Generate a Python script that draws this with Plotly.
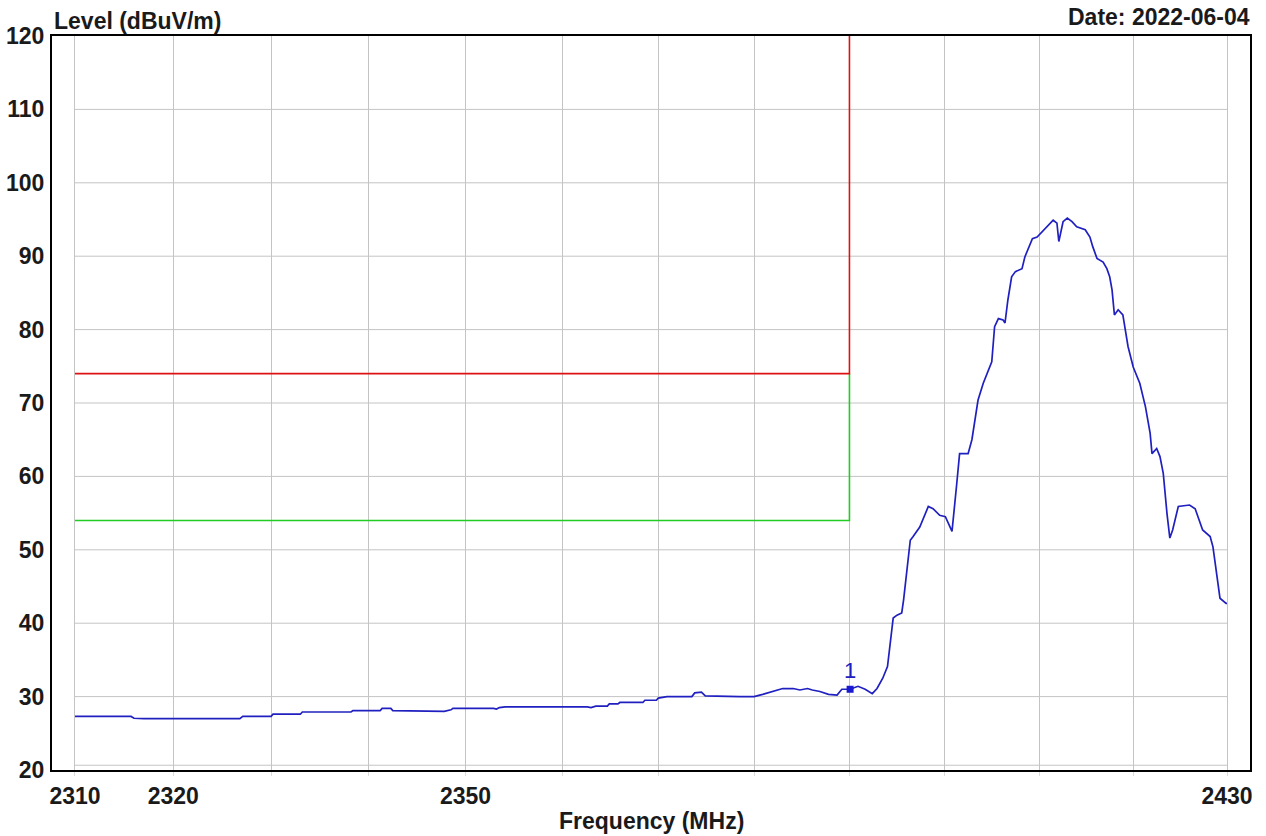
import math
import plotly.graph_objects as go

# Measured field-strength sweep (MHz, dBuV/m)
freq_mhz = [
    2310.0, 2315.7, 2316.0, 2317.0, 2320.2, 2326.8, 2327.1, 2330.0, 2330.2, 2333.0,
    2333.2, 2338.2, 2338.4, 2341.2, 2341.4, 2342.3, 2342.5, 2347.4, 2347.8, 2348.5,
    2348.7, 2352.9, 2353.2, 2353.5, 2354.1, 2362.6, 2363.0, 2363.5, 2364.7, 2364.9,
    2365.8, 2366.0, 2368.4, 2368.6, 2369.8, 2370.0, 2370.9, 2373.5, 2373.8, 2374.5,
    2374.9, 2378.5, 2380.0, 2380.9, 2382.0, 2383.0, 2384.1, 2384.8, 2385.6, 2386.1,
    2386.9, 2387.8, 2388.7, 2389.2, 2390.07, 2390.9, 2391.65, 2392.4, 2392.9, 2393.5,
    2394.0, 2394.3, 2394.6, 2395.0, 2395.5, 2395.7, 2396.1, 2396.4, 2396.7, 2397.4,
    2398.3, 2398.8, 2399.5, 2400.1, 2400.8, 2401.1, 2401.3, 2401.6, 2402.5, 2402.9,
    2403.2, 2403.55, 2404.1, 2404.6, 2405.0, 2405.3, 2405.7, 2406.2, 2406.4, 2406.7,
    2407.1, 2407.5, 2408.2, 2408.5, 2409.3, 2409.8, 2410.85, 2411.5, 2411.9, 2412.1,
    2412.55, 2413.0, 2413.5, 2414.0, 2414.9, 2415.4, 2415.7, 2416.15, 2416.8, 2417.2,
    2417.5, 2417.75, 2418.0, 2418.4, 2418.9, 2419.45, 2420.0, 2420.7, 2421.3, 2421.8,
    2422.0, 2422.5, 2422.85, 2423.2, 2423.6, 2423.9, 2424.2, 2424.8, 2426.0, 2426.6,
    2427.4, 2428.2, 2428.5, 2428.9, 2429.25, 2429.9, 2430.0,
]
level_dbuv = [
    27.3, 27.3, 27.05, 27.0, 27.0, 27.0, 27.3, 27.3, 27.6, 27.6,
    27.9, 27.9, 28.1, 28.1, 28.4, 28.4, 28.1, 28.1, 28.0, 28.2,
    28.4, 28.4, 28.3, 28.5, 28.6, 28.6, 28.5, 28.7, 28.7, 29.0,
    29.0, 29.2, 29.2, 29.5, 29.5, 29.8, 30.0, 30.0, 30.5, 30.6,
    30.1, 30.0, 30.0, 30.3, 30.7, 31.1, 31.1, 30.9, 31.1, 30.9,
    30.7, 30.3, 30.2, 31.0, 31.0, 31.4, 31.0, 30.4, 31.1, 32.5,
    34.1, 37.7, 40.7, 41.1, 41.4, 43.2, 48.2, 51.3, 51.8, 53.1,
    55.9, 55.6, 54.7, 54.5, 52.5, 55.9, 59.0, 63.1, 63.1, 65.0,
    67.7, 70.4, 72.7, 74.3, 75.6, 80.4, 81.5, 81.3, 80.9, 84.0,
    87.2, 87.9, 88.3, 89.9, 92.4, 92.6, 94.0, 94.9, 94.5, 92.0,
    94.7, 95.2, 94.7, 94.0, 93.6, 92.6, 91.3, 89.7, 89.2, 88.3,
    87.2, 85.4, 82.0, 82.7, 82.0, 77.7, 74.9, 72.7, 69.5, 65.9,
    63.1, 63.8, 62.7, 60.4, 54.9, 51.6, 52.7, 55.9, 56.1, 55.6,
    52.7, 51.8, 50.4, 46.3, 43.4, 42.7, 42.7,
]

# Limit lines (peak and average)
limit_peak_freq = [2310, 2390, 2390]
limit_peak_level = [74, 74, 120]
limit_avg_freq = [2310, 2390, 2390]
limit_avg_level = [54, 54, 74]

# Marker
marker_freq = [2390.07]
marker_level = [31.0]
marker_label = ["1"]

# Axis ticks
x_gridlines = [2310, 2320, 2330, 2340, 2350, 2360, 2370, 2380, 2390, 2400, 2410, 2420, 2430]
x_ticklabels = ["2310", "2320", "", "", "2350", "", "", "", "", "", "", "", "2430"]
y_ticks = [20, 30, 40, 50, 60, 70, 80, 90, 100, 110, 120]

FONT = "Liberation Sans, Arial, sans-serif"
GRID = "#c4c4c4"
TXT = "#1a1a1a"
FS = 23

f_lo, f_hi = 2310, 2430
pad = 0.000439
x_range = [math.log10(f_lo) - pad, math.log10(f_hi) + pad]


def bold(s):
    return f"<b>{s}</b>" if s else ""


fig = go.Figure()

fig.add_trace(go.Scatter(
    x=limit_avg_freq, y=limit_avg_level, mode="lines",
    line=dict(color="#22cc22", width=1.6), hoverinfo="skip", showlegend=False,
))
fig.add_trace(go.Scatter(
    x=limit_peak_freq, y=limit_peak_level, mode="lines",
    line=dict(color="#dd1111", width=1.6), hoverinfo="skip", showlegend=False,
))
fig.add_trace(go.Scatter(
    x=freq_mhz, y=level_dbuv, mode="lines",
    line=dict(color="#2020c0", width=1.7), hoverinfo="skip", showlegend=False,
))
fig.add_trace(go.Scatter(
    x=marker_freq, y=marker_level, mode="markers+text",
    text=marker_label, textposition="top center",
    textfont=dict(family=FONT, size=22, color="#2020c0"),
    marker=dict(color="#1a1ad0", size=7, symbol="square"),
    hoverinfo="skip", showlegend=False,
))

# Horizontal grid, spanning the measured band only
shapes = []
for yv in y_ticks[1:-1] + [20.65]:
    shapes.append(dict(
        type="line", xref="x", yref="y", x0=f_lo, x1=f_hi, y0=yv, y1=yv,
        line=dict(color=GRID, width=1), layer="below",
    ))

fig.update_layout(
    width=1266, height=836,
    margin=dict(l=52, r=16, t=36, b=66, autoexpand=False),
    paper_bgcolor="white", plot_bgcolor="white",
    shapes=shapes,
    font=dict(family=FONT, color=TXT),
    annotations=[
        dict(text="<b>Level (dBuV/m)</b>", xref="paper", yref="paper",
             x=0, y=1, xanchor="left", yanchor="bottom", yshift=0,
             showarrow=False, font=dict(size=FS, family=FONT, color=TXT)),
        dict(text="<b>Date: 2022-06-04</b>", xref="paper", yref="paper",
             x=1.0, y=1, xanchor="right", yanchor="bottom", yshift=4, xshift=2,
             showarrow=False, font=dict(size=FS, family=FONT, color=TXT)),
        dict(text="<b>Frequency (MHz)</b>", xref="paper", yref="paper",
             x=0.5, y=0, xanchor="center", yanchor="top", yshift=-36,
             showarrow=False, font=dict(size=FS, family=FONT, color=TXT)),
    ],
)

fig.update_xaxes(
    type="log", range=x_range, automargin=False,
    tickmode="array", tickvals=x_gridlines, ticktext=[bold(t) for t in x_ticklabels],
    tickfont=dict(size=FS, family=FONT, color=TXT),
    showgrid=True, gridcolor=GRID, gridwidth=1,
    ticks="outside", ticklen=4, tickcolor="#dcdcdc",
    showline=True, linecolor="black", linewidth=2, mirror=True,
    zeroline=False,
)
fig.update_yaxes(
    range=[20, 120], automargin=False,
    tickmode="array", tickvals=y_ticks, ticktext=[bold(v) for v in y_ticks],
    tickfont=dict(size=FS, family=FONT, color=TXT),
    showgrid=False, ticks="", ticklabelstandoff=1,
    showline=True, linecolor="black", linewidth=2, mirror=True,
    zeroline=False,
)

fig.write_html("out.html")
